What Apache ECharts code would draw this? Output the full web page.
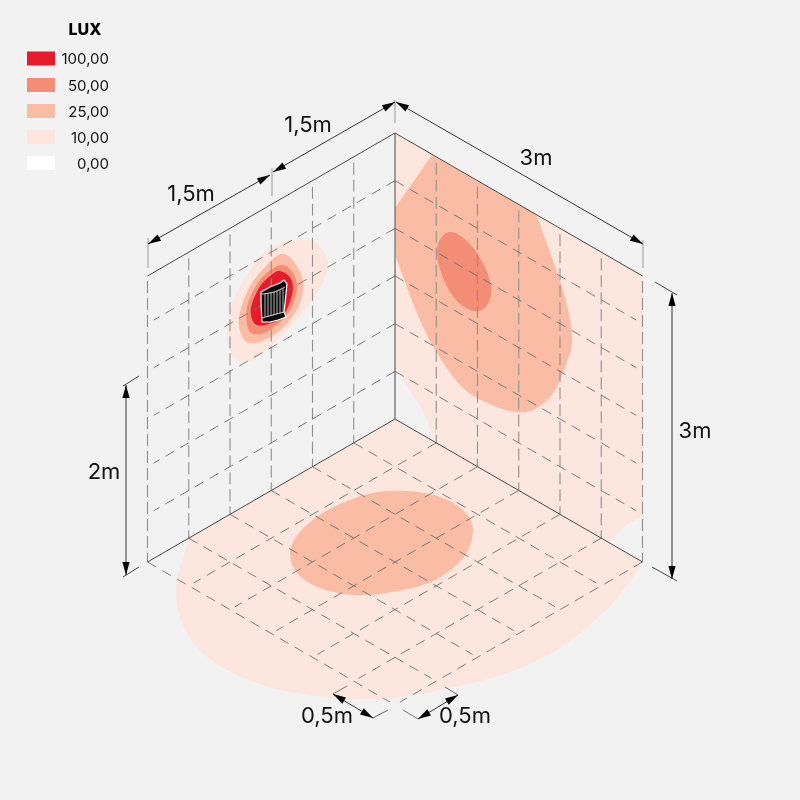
<!DOCTYPE html>
<html>
<head>
<meta charset="utf-8">
<style>html,body{margin:0;padding:0;background:#f2f2f2}#c{width:800px;height:800px}</style>
<script src="https://cdn.jsdelivr.net/npm/echarts@6/dist/echarts.min.js"></script>
</head>
<body>
<div id="c"></div>
<script>
// Legend
const legendTitle = 'LUX';
const legendLabels = ['100,00', '50,00', '25,00', '10,00', '0,00'];
const legendColors = ['#e81b2c', '#f48d76', '#fabca5', '#fde6dd', '#ffffff'];
const legendRows = [58.5, 85, 111, 137, 163];

// Room box, in chart units (third item 1 = sharp corner in contours)
const corner = { topBack: [395, 133], floorBack: [395, 419] };
const stepX = 41.25, stepY = 23.83, stepZ = 47.67, cells = 6;

// Illuminance contours: right wall
const wallR10 = [[395,133,1],[643,276,1],[643,516,1],[625,526],[609,542,1],[436,443,1],[422,410],[395,367,1]];
const wallR25 = [[432,155,1],[536,214,1],[552,258],[565,297],[572,337],[567,362],[553,393],[535,409],[515,412],[490,404],[463,388],[437,353],[417,313],[396,257,1],[395,208,1]];
const wallR50 = [[452,232],[441,238],[437,252],[441,272],[452,295],[466,308],[479,311],[489,302],[491,287],[484,265],[469,243]];
// Floor
const floor10 = [[395,419,1],[189,538,1],[177,582],[180,617],[197,647],[227,670],[273,688],[327,697],[385,699],[445,689],[507,673],[557,650],[603,613],[630,581],[643,562,1]];
const floor25 = [[473,532],[463,558],[433,581],[392,592],[353,595],[320,588],[298,574],[290,555],[296,537],[314,519],[340,504],[373,493],[407,491],[440,497],[465,512]];
// Left wall, around the fixture
const wallL10 = [[300,239],[318,245],[328,262],[324,280],[312,300],[295,322],[272,345],[250,361],[235,358],[227,338],[232,305],[247,275],[268,250]];
const wallL25 = [[281,254],[294,262],[303,282],[298,308],[278,332],[255,343],[243,338],[239,318],[248,290],[264,268]];
const wallL50 = [[283,265],[293,273],[297,290],[288,313],[270,330],[254,334],[247,325],[248,303],[260,280],[272,269]];
const wallL100 = [[280,271],[291,279],[292,295],[282,317],[265,325],[254,323],[251,308],[259,288],[270,276]];

// Fixture
const fixtureBody = [[261,292],[270,287],[280,283],[284,280],[287,284],[285,303],[284,312],[286,317],[278,320],[270,322],[262,322],[261,303]];
const fixtureTop = [[262,294],[274,292],[285,287]];
const fixtureBottom = [[262,318],[273,315],[284,312]];
const fixtureStripes = [[265,294,265,317],[268,294,268,316],[271,293,271,316],[274,292,274,315],[277,291,277,314],[280,290,280,313],[283,288,283,312]];

// Dimension lines [x1,y1,x2,y2]
const dimLines = [
  [148,244,270,175],[273,172,395,102],[396,102,643,244],
  [672,293,672,579],[126,385,126,575],[333,694,373,718],[418,719,458,695]
];
const dimTicks = [
  [123,386,139,376,'#444'],[123,577,139,567,'#444'],[655,282,677,295,'#444'],[652,567,677,581,'#444'],
  [333,694,347,686,'#777'],[373,718,388,710,'#666'],[445,687,458,695,'#666'],[403,710,418,719,'#777'],
  [395,100,395,123,'#999'],[272,168,272,196,'#999'],[148,238,148,268,'#999'],[643,240,643,268,'#999']
];
const dimTexts = [['1,5m',308,125],['1,5m',191,194],['3m',536,158],['2m',104,472],['3m',695,431],['0,5m',327,716],['0,5m',465,716]];

// Build the room lines from the box steps
const edges = [
  [corner.topBack[0],corner.topBack[1],corner.topBack[0]-cells*stepX,corner.topBack[1]+cells*stepY],
  [corner.topBack[0],corner.topBack[1],corner.topBack[0]+cells*stepX,corner.topBack[1]+cells*stepY],
  [corner.floorBack[0],corner.floorBack[1],corner.floorBack[0]-cells*stepX,corner.floorBack[1]+cells*stepY],
  [corner.floorBack[0],corner.floorBack[1],corner.floorBack[0]+cells*stepX,corner.floorBack[1]+cells*stepY],
  [corner.topBack[0],corner.topBack[1],corner.floorBack[0],corner.floorBack[1]]
];
const wallVerticals = [], slantLines = [];
for (let i = 1; i <= cells; i++) {
  const topY = corner.topBack[1] + i*stepY, botY = corner.floorBack[1] + i*stepY;
  const gap = i === cells ? 5 : 6;
  wallVerticals.push([corner.topBack[0]-i*stepX, topY+gap, corner.topBack[0]-i*stepX, botY]);
  wallVerticals.push([corner.topBack[0]+i*stepX, topY+gap, corner.topBack[0]+i*stepX, botY]);
}
for (let k = 1; k < cells; k++) {
  const y = corner.topBack[1] + k*stepZ;
  slantLines.push([corner.topBack[0], y, corner.topBack[0]-(cells-0.15)*stepX, y+(cells-0.15)*stepY]);
  slantLines.push([corner.topBack[0], y, corner.topBack[0]+(cells-0.15)*stepX, y+(cells-0.15)*stepY]);
}
for (let i = 1; i <= cells; i++) {
  const lx = corner.floorBack[0]-i*stepX, rx = corner.floorBack[0]+i*stepX, y = corner.floorBack[1]+i*stepY;
  slantLines.push([lx, y, lx+(cells-0.12)*stepX, y+(cells-0.12)*stepY]);
  slantLines.push([rx, y, rx-(cells-0.12)*stepX, y+(cells-0.12)*stepY]);
}

function smoothClosed(pts) {
  const out = [], n = pts.length, sub = 14;
  for (let i = 0; i < n; i++) {
    const p0 = pts[(i-1+n)%n], p1 = pts[i], p2 = pts[(i+1)%n], p3 = pts[(i+2)%n];
    const sharp1 = p1[2] === 1, sharp2 = p2[2] === 1;
    const m1 = sharp1 ? [p2[0]-p1[0], p2[1]-p1[1]] : [(p2[0]-p0[0])/2, (p2[1]-p0[1])/2];
    const m2 = sharp2 ? [p2[0]-p1[0], p2[1]-p1[1]] : [(p3[0]-p1[0])/2, (p3[1]-p1[1])/2];
    for (let s = 0; s < sub; s++) {
      const t = s/sub, t2 = t*t, t3 = t2*t;
      const a = 2*t3-3*t2+1, b = t3-2*t2+t, c = -2*t3+3*t2, d = t3-t2;
      out.push([a*p1[0]+b*m1[0]+c*p2[0]+d*m2[0], a*p1[1]+b*m1[1]+c*p2[1]+d*m2[1]]);
    }
  }
  return out;
}
function lineEl(api, l, style) {
  const a = api.coord([l[0], l[1]]), b = api.coord([l[2], l[3]]);
  return { type: 'line', shape: { x1: a[0], y1: a[1], x2: b[0], y2: b[1] }, style: Object.assign({ fill: null }, style) };
}
function arrowEl(api, tip, from) {
  const a = api.coord(tip), b = api.coord(from);
  const len = Math.hypot(b[0]-a[0], b[1]-a[1]) || 1, ux = (b[0]-a[0])/len, uy = (b[1]-a[1])/len;
  const L = 13, W = 3.6;
  return { type: 'polygon', shape: { points: [a, [a[0]+ux*L-uy*W, a[1]+uy*L+ux*W], [a[0]+ux*L+uy*W, a[1]+uy*L-ux*W]] }, style: { fill: '#000' } };
}
function layer(name, items, draw) {
  return {
    name, type: 'custom', coordinateSystem: 'cartesian2d', silent: true, clip: false, animation: false,
    data: items.map(() => [0, 0]),
    renderItem: (p, api) => draw(items[p.dataIndex], api)
  };
}
const contours = [
  [wallR10, legendColors[3]], [wallR25, legendColors[2]], [wallR50, legendColors[1]],
  [floor10, legendColors[3]], [floor25, legendColors[2]],
  [wallL10, legendColors[3]], [wallL25, legendColors[2]], [wallL50, legendColors[1]], [wallL100, legendColors[0]]
];
const FONT = 'Inter, Roboto, sans-serif';
const chart = echarts.init(document.getElementById('c'), null, { renderer: 'canvas' });
chart.setOption({
  backgroundColor: '#f2f2f2',
  animation: false,
  grid: { left: 0, right: 0, top: 0, bottom: 0 },
  xAxis: { type: 'value', min: 0, max: 800, show: false },
  yAxis: { type: 'value', min: 0, max: 800, inverse: true, show: false },
  series: [
    layer('contours', contours, (c, api) => ({
      type: 'polygon',
      shape: { points: smoothClosed(c[0]).map(p => api.coord(p)) },
      style: { fill: c[1] }
    })),
    layer('wall verticals', wallVerticals, (l, api) => lineEl(api, l, { stroke: '#8f8f8f', lineWidth: 1.1, lineDash: [12, 5] })),
    layer('grid slants', slantLines, (l, api) => lineEl(api, l, { stroke: '#6e6e6e', lineWidth: 0.9, lineDash: [10, 7] })),
    layer('room edges', edges, (l, api) => lineEl(api, l, { stroke: '#4a4a4a', lineWidth: 1 })),
    layer('fixture body', [fixtureBody], (b, api) => ({
      type: 'polygon', shape: { points: b.map(p => api.coord(p)) },
      style: { fill: '#0a0a0a', stroke: '#fff', lineWidth: 1.2 }
    })),
    layer('fixture bands', [fixtureTop, fixtureBottom], (b, api) => ({
      type: 'polyline', shape: { points: b.map(p => api.coord(p)), smooth: 0.4 },
      style: { fill: null, stroke: '#fff', lineWidth: 0.9 }
    })),
    layer('fixture stripes', fixtureStripes, (l, api) => lineEl(api, l, { stroke: '#d8d8d8', lineWidth: 0.8 })),
    layer('dimension ticks', dimTicks, (l, api) => lineEl(api, l, { stroke: l[4], lineWidth: 1 })),
    layer('dimension lines', dimLines, (l, api) => ({
      type: 'group',
      children: [
        lineEl(api, l, { stroke: '#333', lineWidth: 1 }),
        arrowEl(api, [l[0], l[1]], [l[2], l[3]]),
        arrowEl(api, [l[2], l[3]], [l[0], l[1]])
      ]
    })),
    layer('dimension text', dimTexts, (t, api) => {
      const p = api.coord([t[1], t[2]]);
      return { type: 'text', style: { x: p[0], y: p[1], text: t[0], fill: '#111', font: '400 22px ' + FONT, textAlign: 'center', textVerticalAlign: 'middle' } };
    }),
    layer('legend swatches', legendLabels.map((_, i) => i), (i, api) => {
      const a = api.coord([27, legendRows[i]-7]), b = api.coord([55, legendRows[i]+7]);
      return { type: 'rect', shape: { x: a[0], y: a[1], width: b[0]-a[0], height: b[1]-a[1] }, style: { fill: legendColors[i] } };
    }),
    layer('legend labels', legendLabels.map((_, i) => i), (i, api) => {
      const p = api.coord([109, legendRows[i]+1]);
      return { type: 'text', style: { x: p[0], y: p[1], text: legendLabels[i], fill: '#111', font: '400 15px ' + FONT, textAlign: 'right', textVerticalAlign: 'middle' } };
    }),
    layer('legend title', [legendTitle], (t, api) => {
      const p = api.coord([85, 30]);
      return { type: 'text', style: { x: p[0], y: p[1], text: t, fill: '#000', font: '800 16px ' + FONT, textAlign: 'center', textVerticalAlign: 'middle' } };
    })
  ]
});
</script>
</body>
</html>
